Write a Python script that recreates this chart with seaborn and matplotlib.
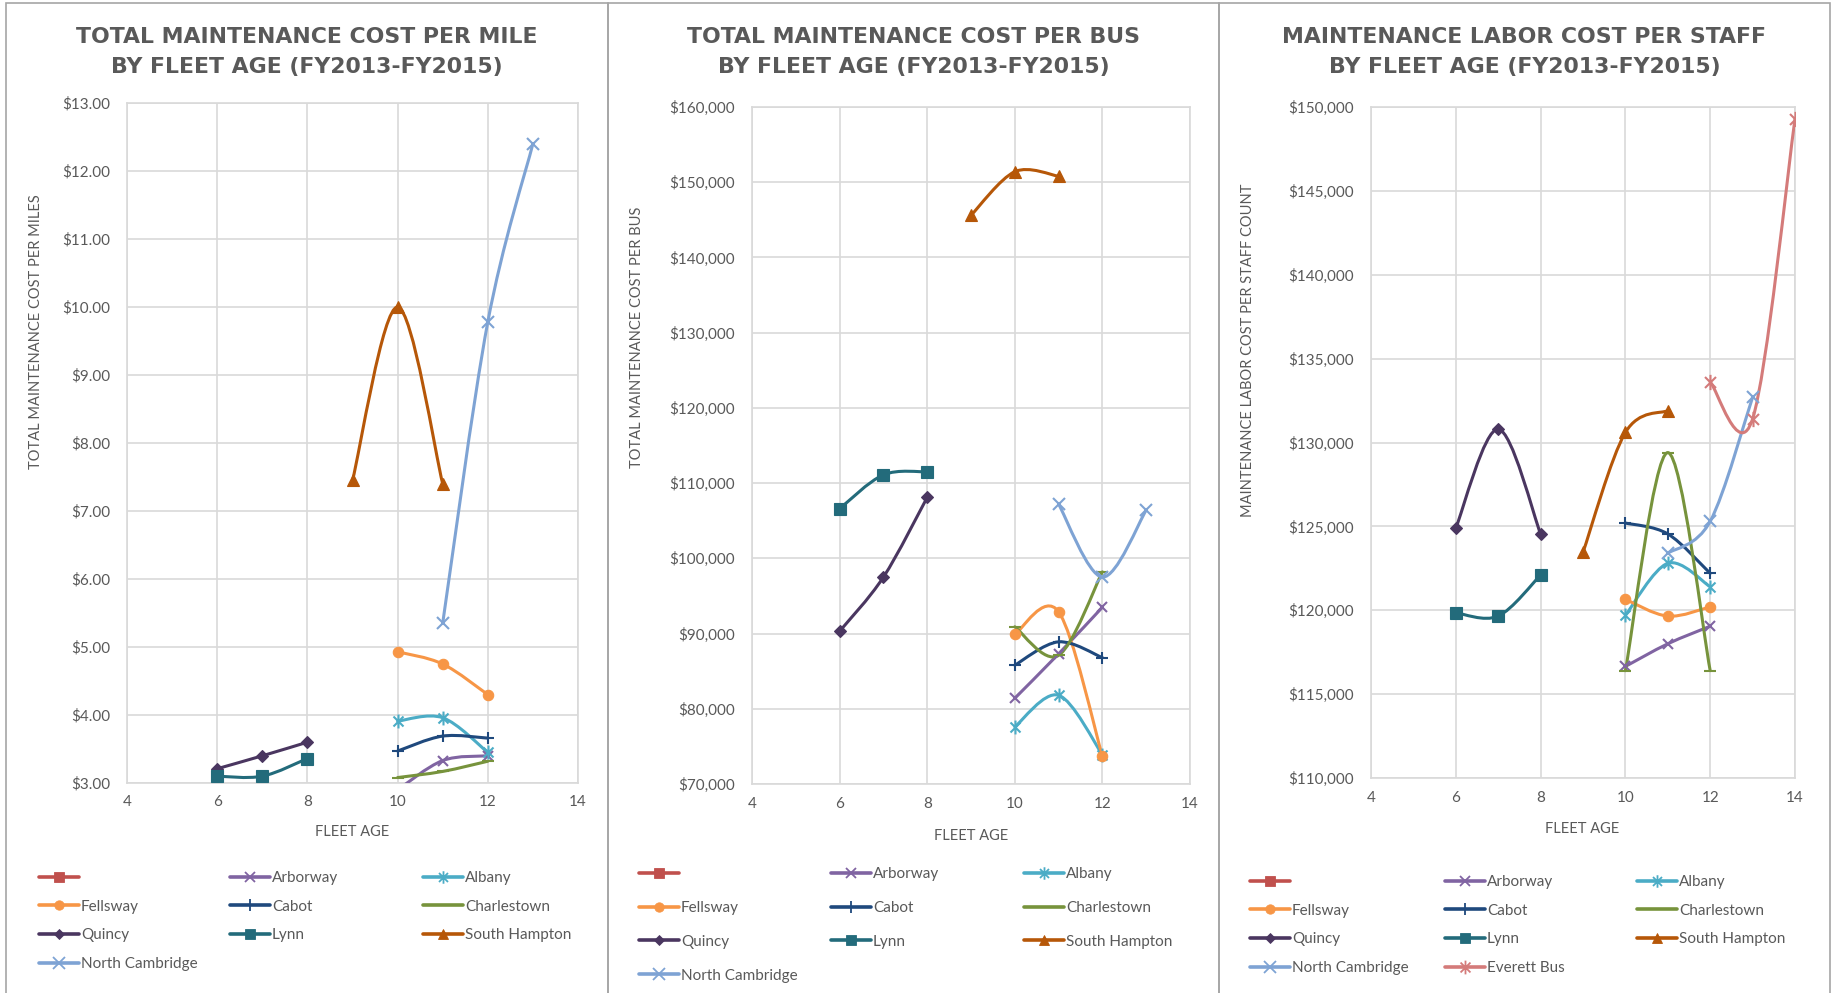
import matplotlib
matplotlib.use("Agg")
import matplotlib.pyplot as plt
import seaborn as sns
from matplotlib.path import Path
from matplotlib.patches import PathPatch, Rectangle
from matplotlib.lines import Line2D
from matplotlib.ticker import FuncFormatter, MultipleLocator

# ---------------------------------------------------------------- data
ages_6_8 = [6, 7, 8]
ages_9_11 = [9, 10, 11]
ages_10_12 = [10, 11, 12]
ages_11_13 = [11, 12, 13]
ages_12_14 = [12, 13, 14]

# total maintenance cost per mile ($)
mile_arborway = [2.90, 3.33, 3.40]
mile_albany = [3.91, 3.96, 3.45]
mile_fellsway = [4.93, 4.75, 4.30]
mile_cabot = [3.47, 3.69, 3.66]
mile_charlestown = [3.08, 3.17, 3.32]
mile_quincy = [3.21, 3.40, 3.60]
mile_lynn = [3.10, 3.10, 3.36]
mile_south_hampton = [7.45, 10.00, 7.40]
mile_north_cambridge = [5.35, 9.78, 12.40]

# total maintenance cost per bus ($)
bus_arborway = [81400, 87300, 93500]
bus_albany = [77600, 81800, 73900]
bus_fellsway = [89900, 92900, 73700]
bus_cabot = [85800, 88900, 86800]
bus_charlestown = [90900, 87100, 98200]
bus_quincy = [90300, 97500, 108100]
bus_lynn = [106600, 111100, 111500]
bus_south_hampton = [145600, 151400, 150800]
bus_north_cambridge = [107200, 97500, 106400]

# maintenance labor cost per staff count ($)
staff_arborway = [116650, 118000, 119050]
staff_albany = [119700, 122800, 121400]
staff_fellsway = [120650, 119650, 120200]
staff_cabot = [125200, 124550, 122200]
staff_charlestown = [116400, 129400, 116400]
staff_quincy = [124900, 130800, 124550]
staff_lynn = [119850, 119650, 122100]
staff_south_hampton = [123450, 130600, 131900]
staff_north_cambridge = [123400, 125300, 132700]
staff_everett = [133600, 131400, 149300]

titles = [
    "TOTAL MAINTENANCE COST PER MILE\nBY FLEET AGE (FY2013-FY2015)",
    "TOTAL MAINTENANCE COST PER BUS\nBY FLEET AGE (FY2013-FY2015)",
    "MAINTENANCE LABOR COST PER STAFF\nBY FLEET AGE (FY2013-FY2015)",
]
ylabels = [
    "TOTAL MAINTENANCE COST PER MILES",
    "TOTAL MAINTENANCE COST PER BUS",
    "MAINTENANCE LABOR COST PER STAFF COUNT",
]
xlabel = "FLEET AGE"

# ---------------------------------------------------------------- styles
# asterisk marker: an X crossed by a vertical stroke
ASTER = Path([(0, -1), (0, 1), (-0.72, -0.72), (0.72, 0.72), (-0.72, 0.72), (0.72, -0.72)],
             [Path.MOVETO, Path.LINETO, Path.MOVETO, Path.LINETO, Path.MOVETO, Path.LINETO])

style = {
    "":                ("#C0504D", "s", 7.5),
    "Arborway":        ("#8064A2", "x", 7.5),
    "Albany":          ("#4BACC6", ASTER, 10),
    "Fellsway":        ("#F79646", "o", 7.5),
    "Cabot":           ("#1F497D", "+", 9),
    "Charlestown":     ("#77933C", "_", 9),
    "Quincy":          ("#4A3660", "D", 6),
    "Lynn":            ("#236B7B", "s", 8),
    "South Hampton":   ("#B65708", "^", 8.5),
    "North Cambridge": ("#7EA3D4", "x", 9),
    "Everett Bus":     ("#D47B7A", ASTER, 11),
}
UNFILLED = {"Arborway", "Albany", "Cabot", "Charlestown", "North Cambridge", "Everett Bus"}

panels = [
    {
        "series": [
            ("", [], []),
            ("Arborway", ages_10_12, mile_arborway),
            ("Albany", ages_10_12, mile_albany),
            ("Fellsway", ages_10_12, mile_fellsway),
            ("Cabot", ages_10_12, mile_cabot),
            ("Charlestown", ages_10_12, mile_charlestown),
            ("Quincy", ages_6_8, mile_quincy),
            ("Lynn", ages_6_8, mile_lynn),
            ("South Hampton", ages_9_11, mile_south_hampton),
            ("North Cambridge", ages_11_13, mile_north_cambridge),
        ],
        "ylim": (3, 13), "ystep": 1,
        "fmt": lambda v, p: f"${v:,.2f}",
    },
    {
        "series": [
            ("", [], []),
            ("Arborway", ages_10_12, bus_arborway),
            ("Albany", ages_10_12, bus_albany),
            ("Fellsway", ages_10_12, bus_fellsway),
            ("Cabot", ages_10_12, bus_cabot),
            ("Charlestown", ages_10_12, bus_charlestown),
            ("Quincy", ages_6_8, bus_quincy),
            ("Lynn", ages_6_8, bus_lynn),
            ("South Hampton", ages_9_11, bus_south_hampton),
            ("North Cambridge", ages_11_13, bus_north_cambridge),
        ],
        "ylim": (70000, 160000), "ystep": 10000,
        "fmt": lambda v, p: f"${v:,.0f}",
    },
    {
        "series": [
            ("", [], []),
            ("Arborway", ages_10_12, staff_arborway),
            ("Albany", ages_10_12, staff_albany),
            ("Fellsway", ages_10_12, staff_fellsway),
            ("Cabot", ages_10_12, staff_cabot),
            ("Charlestown", ages_10_12, staff_charlestown),
            ("Quincy", ages_6_8, staff_quincy),
            ("Lynn", ages_6_8, staff_lynn),
            ("South Hampton", ages_9_11, staff_south_hampton),
            ("North Cambridge", ages_11_13, staff_north_cambridge),
            ("Everett Bus", ages_12_14, staff_everett),
        ],
        "ylim": (110000, 150000), "ystep": 5000,
        "fmt": lambda v, p: f"${v:,.0f}",
    },
]

# ---------------------------------------------------------------- layout (pixels)
W, H = 1833, 993
axes_px = [(127, 578, 103, 783), (752, 1190, 107, 784), (1371, 1795, 107, 778)]
panel_px = [(6, 608), (608, 1219), (1219, 1830)]
ylabel_px = [(36, 332), (637, 337), (1248, 350)]
xlabel_px = [(352, 832), (971, 836), (1582, 829)]
legend_cols_px = [(39, 230, 423), (639, 831, 1024), (1250, 1445, 1637)]
legend_top_px = [871, 867, 875]
legend_spacing = [0.96, 1.30, 0.96]
title_rows_px = (37, 67)

TEXT = "#595959"
GRID = "#D9D9D9"

sns.set_theme(style="whitegrid")
plt.rcParams["font.family"] = ["Lato", "DejaVu Sans"]

fig = plt.figure(figsize=(W / 100, H / 100), dpi=100)
fig.patch.set_facecolor("white")


def fx(px):
    return px / W


def fy(py):
    return 1 - py / H


def smooth_path(xs, ys):
    """Cubic Bezier path through the points (Catmull-Rom style tangents)."""
    pts = list(zip(xs, ys))
    n = len(pts)
    verts = [pts[0]]
    codes = [Path.MOVETO]
    for i in range(n - 1):
        p0 = pts[i - 1] if i > 0 else pts[i]
        p1 = pts[i]
        p2 = pts[i + 1]
        p3 = pts[i + 2] if i + 2 < n else pts[i + 1]
        c1 = (p1[0] + (p2[0] - p0[0]) / 6, p1[1] + (p2[1] - p0[1]) / 6)
        c2 = (p2[0] - (p3[0] - p1[0]) / 6, p2[1] - (p3[1] - p1[1]) / 6)
        verts += [c1, c2, p2]
        codes += [Path.CURVE4] * 3
    return Path(verts, codes)


for k, panel in enumerate(panels):
    x0, x1 = panel_px[k]
    fig.patches.append(Rectangle((fx(x0), -0.02), fx(x1) - fx(x0), fy(3) + 0.02,
                                 transform=fig.transFigure, fill=False,
                                 edgecolor="#A6A6A6", lw=1.2, zorder=0))

    l, r, t, b = axes_px[k]
    ax = fig.add_axes([fx(l), fy(b), fx(r) - fx(l), fy(t) - fy(b)])
    ax.set_facecolor("white")
    ax.set_xlim(4, 14)
    ax.set_ylim(*panel["ylim"])
    ax.xaxis.set_major_locator(MultipleLocator(2))
    ax.yaxis.set_major_locator(MultipleLocator(panel["ystep"]))
    ax.yaxis.set_major_formatter(FuncFormatter(panel["fmt"]))
    ax.grid(True, color=GRID, lw=1.2)
    for s in ax.spines.values():
        s.set_color(GRID)
        s.set_linewidth(1.2)
    ax.tick_params(axis="both", colors=TEXT, labelsize=11, length=0)
    ax.tick_params(axis="y", pad=12)
    ax.tick_params(axis="x", pad=9)
    ax.set_xlabel("")
    ax.set_ylabel("")

    handles, labels = [], []
    for name, xs, ys in panel["series"]:
        color, marker, ms = style[name]
        unfilled = name in UNFILLED
        if len(xs) > 1:
            ax.add_patch(PathPatch(smooth_path(xs, ys), fill=False,
                                   edgecolor=color, lw=2.2, zorder=3,
                                   capstyle="round", joinstyle="round"))
            sns.lineplot(x=xs, y=ys, ax=ax, color=color, marker=marker,
                         markersize=ms, linestyle="", errorbar=None,
                         markeredgewidth=1.5 if unfilled else 0.8,
                         markeredgecolor=color, zorder=4, legend=False)
        handles.append(Line2D([], [], color=color, lw=2.6, marker=marker,
                              markersize=ms * 0.9,
                              markeredgewidth=1.3 if unfilled else 0.6,
                              markeredgecolor=color))
        labels.append(name)

    # title, axis labels
    cx = (x0 + x1) / 2
    line1, line2 = titles[k].split("\n")
    fig.text(fx(cx), fy(title_rows_px[0]), line1, ha="center", va="center",
             fontsize=15.8, fontweight="bold", color=TEXT, family=["DejaVu Sans"])
    fig.text(fx(cx), fy(title_rows_px[1]), line2, ha="center", va="center",
             fontsize=15.8, fontweight="bold", color=TEXT, family=["DejaVu Sans"])
    yx, yy = ylabel_px[k]
    fig.text(fx(yx), fy(yy), ylabels[k], rotation=90, ha="center", va="center",
             fontsize=10.5, color=TEXT)
    lx, ly = xlabel_px[k]
    fig.text(fx(lx), fy(ly), xlabel, ha="center", va="center",
             fontsize=10.5, color=TEXT)

    # legend: row-major layout in three columns
    for c in range(3):
        fig.legend(handles[c::3], labels[c::3], loc="upper left",
                   bbox_to_anchor=(fx(legend_cols_px[k][c]), fy(legend_top_px[k])),
                   frameon=False, borderpad=0, borderaxespad=0,
                   handlelength=2.6, handletextpad=0.15,
                   labelspacing=legend_spacing[k], fontsize=11,
                   labelcolor=TEXT)

fig.savefig("out.png", dpi=100, facecolor="white")
